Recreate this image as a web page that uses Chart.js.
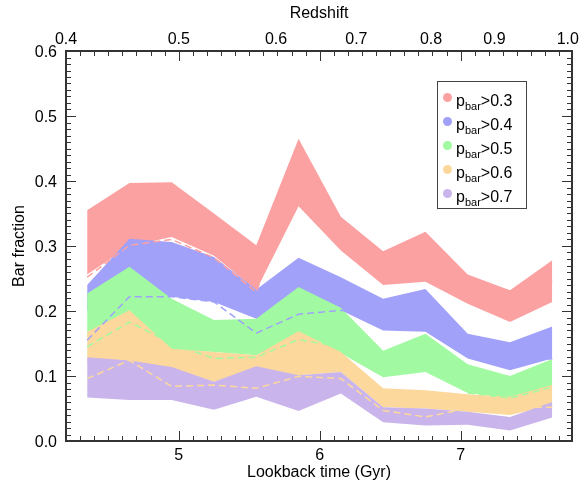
<!DOCTYPE html>
<html>
<head>
<meta charset="utf-8">
<script src="https://cdn.jsdelivr.net/npm/chart.js@4.4.1/dist/chart.umd.min.js"></script>
<style>
  html, body { margin: 0; padding: 0; background: #fff; }
  #wrap { position: relative; width: 586px; height: 484px; }
  #legend { position: absolute; left: 437px; top: 81px; width: 88px; height: 126px;
            border: 1px solid #444; background: #fff;
            font-family: 'Liberation Sans', Arial, Helvetica, sans-serif; font-size: 16px; color: #000; }
  .row { position: absolute; left: 0; height: 24px; line-height: 24px; white-space: nowrap; }
  .dot { position: absolute; left: 4.5px; top: 4.3px; width: 9px; height: 9px; border-radius: 50%; }
  .txt { position: absolute; left: 18px; top: 0; }
  .txt sub { font-size: 11px; vertical-align: baseline; position: relative; top: 3.5px; }
</style>
</head>
<body>
<div id="wrap">
  <canvas id="c" width="586" height="484"></canvas>
  <div id="legend"></div>
</div>
<script>
// ---- data ----
const lookbackTime = [4.35, 4.65, 4.95, 5.25, 5.55, 5.85, 6.15, 6.45, 6.75, 7.05, 7.35, 7.65];

const thresholds = ['0.3', '0.4', '0.5', '0.6', '0.7'];

const upper03 = [0.355, 0.397, 0.398, 0.350, 0.301, 0.465, 0.345, 0.292, 0.322, 0.256, 0.232, 0.278];
const lower03 = [0.256, 0.300, 0.314, 0.285, 0.232, 0.361, 0.293, 0.240, 0.245, 0.211, 0.183, 0.214];
const upper04 = [0.240, 0.311, 0.306, 0.283, 0.233, 0.282, 0.252, 0.219, 0.234, 0.165, 0.152, 0.176];
const lower04 = [0.200, 0.225, 0.222, 0.214, 0.188, 0.210, 0.201, 0.170, 0.168, 0.127, 0.109, 0.127];
const upper05 = [0.227, 0.268, 0.219, 0.186, 0.188, 0.237, 0.205, 0.139, 0.165, 0.118, 0.100, 0.126];
const lower05 = [0.160, 0.190, 0.140, 0.137, 0.132, 0.165, 0.135, 0.098, 0.106, 0.074, 0.066, 0.084];
const upper06 = [0.168, 0.201, 0.142, 0.137, 0.132, 0.169, 0.137, 0.081, 0.078, 0.072, 0.068, 0.086];
const lower06 = [0.120, 0.120, 0.110, 0.091, 0.110, 0.101, 0.106, 0.052, 0.050, 0.045, 0.040, 0.055];
const upper07 = [0.129, 0.124, 0.114, 0.091, 0.115, 0.101, 0.106, 0.052, 0.050, 0.045, 0.037, 0.060];
const lower07 = [0.067, 0.063, 0.063, 0.048, 0.068, 0.046, 0.073, 0.029, 0.024, 0.025, 0.016, 0.036];

const dashed03 = [0.252, 0.301, 0.310, 0.282, 0.229, 0.410, 0.320, 0.266, 0.283, 0.233, 0.207, 0.246];
const dashed04 = [0.155, 0.222, 0.222, 0.214, 0.166, 0.195, 0.201, 0.190, 0.195, 0.146, 0.130, 0.126];
const dashed05 = [0.145, 0.183, 0.150, 0.127, 0.129, 0.156, 0.145, 0.115, 0.130, 0.074, 0.066, 0.083];
const dashed06 = [0.096, 0.124, 0.084, 0.086, 0.081, 0.0995, 0.096, 0.047, 0.037, 0.050, 0.052, 0.052];

// axis ticks
const lookbackTicks = [5, 6, 7];
const redshiftLabels = ['0.4', '0.5', '0.6', '0.7', '0.8', '0.9', '1.0'];
const redshiftAtLookback = [4.20, 5.00, 5.69, 6.26, 6.79, 7.24, 7.76];

// ---- styles ----
const bandColors = ['#fca1a1', '#a1a1fa', '#a1faa1', '#fdd89c', '#c9b5eb'];
const axisColor = '#333';
const textColor = '#000';
const FONT = "'Liberation Sans', Arial, Helvetica, sans-serif";
const xMin = 4.2, xMax = 7.79, yMin = 0, yMax = 0.6;

const uppers = [upper03, upper04, upper05, upper06, upper07];
const lowers = [lower03, lower04, lower05, lower06, lower07];
const dashes = [dashed03, dashed04, dashed05, dashed06];

const pts = arr => lookbackTime.map((x, i) => ({ x: x, y: arr[i] }));

const datasets = [];
thresholds.forEach((t, k) => {
  const ord = 20 - k * 2;
  datasets.push({
    label: 'lower ' + t, data: pts(lowers[k]), borderWidth: 0, pointRadius: 0,
    fill: false, order: ord, borderColor: 'rgba(0,0,0,0)'
  });
  datasets.push({
    label: 'pbar>' + t, data: pts(uppers[k]), borderWidth: 0, pointRadius: 0,
    fill: '-1', backgroundColor: bandColors[k], borderColor: 'rgba(0,0,0,0)', order: ord
  });
});
dashes.forEach((d, k) => {
  datasets.push({
    label: 'dashed ' + thresholds[k], data: pts(d), borderWidth: 1.5, pointRadius: 0,
    borderDash: [7, 4], borderColor: bandColors[k], fill: false, order: 1
  });
});

const innerTicks = {
  id: 'innerTicks',
  afterDraw(chart) {
    const { ctx, chartArea: a, scales } = chart;
    const sx = scales.x, sy = scales.y;
    ctx.save();
    ctx.strokeStyle = axisColor;
    ctx.lineWidth = 1;
    ctx.beginPath();
    const i0 = Math.ceil(sx.min * 10 - 1e-6), i1 = Math.floor(sx.max * 10 + 1e-6);
    for (let i = i0; i <= i1; i++) {
      const px = Math.round(sx.getPixelForValue(i / 10)) + 0.5;
      const len = (i % 10 === 0) ? 10 : 5;
      ctx.moveTo(px, a.bottom); ctx.lineTo(px, a.bottom - len);
      ctx.moveTo(px, a.top); ctx.lineTo(px, a.top + len);
    }
    const j0 = Math.round(sy.min * 100), j1 = Math.round(sy.max * 100);
    for (let j = j0 + 1; j < j1; j++) {
      const py = Math.round(sy.getPixelForValue(j / 100)) + 0.5;
      const len = (j % 10 === 0) ? 10 : 5;
      ctx.moveTo(a.left, py); ctx.lineTo(a.left + len, py);
      ctx.moveTo(a.right, py); ctx.lineTo(a.right - len, py);
    }
    ctx.stroke();
    ctx.restore();
  }
};

const tickFont = { family: FONT, size: 16 };

new Chart(document.getElementById('c'), {
  type: 'line',
  data: { datasets: datasets },
  plugins: [innerTicks],
  options: {
    responsive: false,
    animation: false,
    devicePixelRatio: 1,
    layout: { padding: 0 },
    elements: { line: { tension: 0 } },
    plugins: { legend: { display: false }, tooltip: { enabled: false } },
    scales: {
      x: {
        type: 'linear', position: 'bottom', min: xMin, max: xMax, display: true,
        afterBuildTicks: s => { s.ticks = lookbackTicks.map(v => ({ value: v })); },
        ticks: { callback: v => String(v), font: tickFont, color: textColor, padding: 5, maxRotation: 0, autoSkip: false },
        grid: { display: false, drawTicks: false },
        border: { display: true, color: axisColor, width: 2 },
        title: { display: true, text: 'Lookback time (Gyr)', font: tickFont, color: textColor, padding: { top: 0, bottom: 1.5 } },
        afterFit: s => { s.height = 43; }
      },
      xTop: {
        type: 'linear', position: 'top', min: xMin, max: xMax, display: true,
        afterBuildTicks: s => { s.ticks = redshiftAtLookback.map(v => ({ value: v })); },
        ticks: {
          callback: (v) => { const i = redshiftAtLookback.indexOf(v); return i >= 0 ? redshiftLabels[i] : ''; },
          font: tickFont, color: textColor, padding: 1.5, maxRotation: 0, autoSkip: false
        },
        grid: { display: false, drawTicks: false },
        border: { display: true, color: axisColor, width: 2 },
        title: { display: true, text: 'Redshift', font: tickFont, color: textColor, padding: { top: 4, bottom: 0 } },
        afterFit: s => { s.height = 51; }
      },
      y: {
        type: 'linear', position: 'left', min: yMin, max: yMax, display: true,
        ticks: { stepSize: 0.1, callback: v => Number(v).toFixed(1), font: tickFont, color: textColor, padding: 9, labelOffset: 2, autoSkip: false },
        grid: { display: false, drawTicks: false },
        border: { display: true, color: axisColor, width: 2 },
        title: { display: true, text: 'Bar fraction', font: tickFont, color: textColor, padding: { top: 10, bottom: 0 } },
        afterFit: s => { s.width = 66; }
      },
      yRight: {
        type: 'linear', position: 'right', min: yMin, max: yMax, display: true,
        ticks: { display: false },
        grid: { display: false, drawTicks: false },
        border: { display: true, color: axisColor, width: 2 },
        afterFit: s => { s.width = 14; }
      }
    }
  }
});

// HTML legend built from the series thresholds and band colours
const legend = document.getElementById('legend');
thresholds.forEach((t, k) => {
  const row = document.createElement('div');
  row.className = 'row';
  row.style.top = (7 + 24 * k) + 'px';
  const dot = document.createElement('span');
  dot.className = 'dot';
  dot.style.background = bandColors[k];
  const txt = document.createElement('span');
  txt.className = 'txt';
  txt.innerHTML = 'p<sub>bar</sub>&gt;' + t;
  row.appendChild(dot);
  row.appendChild(txt);
  legend.appendChild(row);
});
</script>
</body>
</html>
